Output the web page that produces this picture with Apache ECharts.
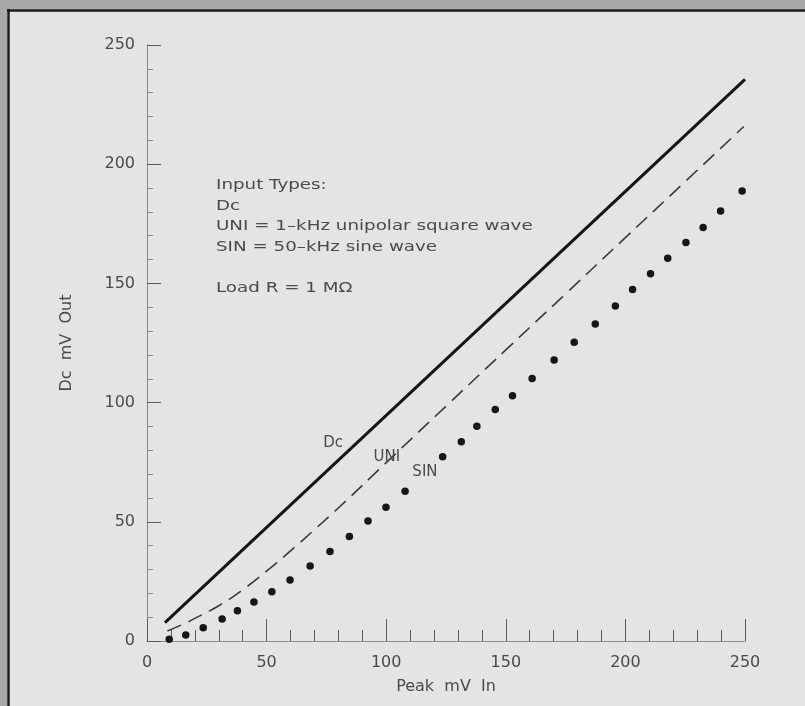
<!DOCTYPE html>
<html><head><meta charset="utf-8">
<script src="https://cdn.jsdelivr.net/npm/echarts@6/dist/echarts.min.js"></script>
<style>html,body{margin:0;padding:0;background:#e4e4e2}#c{width:805px;height:706px}</style>
</head><body><div id="c"></div><script>
// Data (mV)
const dcData = [[7.5, 7.7], [250, 235.6]];
const uniData = [[8.5, 4.2], [15, 7], [20, 9.5], [30, 14.8], [40, 21.5], [50, 29.3], [60, 37.8], [70, 46.7],
  [80, 55.8], [100, 74.8], [125, 98.5], [150, 122.1], [175, 145.6], [200, 169.2], [225, 192.7], [249.5, 215.8]];
const sinData = [[9.3, 0.7], [16.2, 2.5], [23.5, 5.6], [31.4, 9.2], [37.8, 12.7], [44.7, 16.4], [52.2, 20.7],
  [59.8, 25.6], [68.2, 31.5], [76.5, 37.5], [84.6, 43.8], [92.4, 50.3], [99.9, 56.1], [107.9, 62.8],
  [123.6, 77.3], [131.4, 83.6], [137.9, 90.1], [145.6, 97.1], [152.8, 102.9], [161.0, 110.1], [170.2, 117.9],
  [178.6, 125.3], [187.4, 133.0], [195.8, 140.5], [203.0, 147.4], [210.5, 154.0], [217.7, 160.6], [225.3, 167.2],
  [232.5, 173.4], [239.8, 180.4], [248.8, 188.8]];
const seriesLabels = [['Dc', 77.8, 83.1], ['UNI', 100.3, 77.2], ['SIN', 116.2, 70.9]];
const annotationLines = ['Input Types:', 'Dc', 'UNI = 1\u2013kHz unipolar square wave', 'SIN = 50\u2013kHz sine wave', '', 'Load R = 1 M\u03A9'];
const xTitle = 'Peak  mV  In';
const yTitle = 'Dc  mV  Out';

const FONT = 'DejaVu Sans';
const TXT = '#4a4a4a';
const chart = echarts.init(document.getElementById('c'), null, {renderer: 'canvas'});
function mk(lbl) {
  return {
    symbol: 'circle', symbolSize: 0, silent: true,
    itemStyle: {color: 'rgba(0,0,0,0)'},
    label: {show: true, position: 'inside', formatter: lbl[0], color: TXT, fontFamily: FONT, fontSize: 15},
    data: [{coord: [lbl[1], lbl[2]], value: lbl[0]}]
  };
}
chart.setOption({
  backgroundColor: '#e4e4e2',
  animation: false,
  textStyle: {fontFamily: FONT},
  grid: {left: 147, right: 60, top: 45, bottom: 65, containLabel: false},
  xAxis: {
    type: 'value', min: 0, max: 250, interval: 50,
    name: xTitle, nameLocation: 'middle', nameGap: 38,
    nameTextStyle: {color: TXT, fontSize: 16, fontFamily: FONT},
    axisLine: {show: true, lineStyle: {color: '#8a8a8a', width: 1}},
    axisTick: {show: true, inside: true, length: 22, lineStyle: {color: '#5a5a5a', width: 1}},
    minorTick: {show: true, splitNumber: 5, length: 11, lineStyle: {color: '#5a5a5a', width: 1}},
    axisLabel: {color: TXT, fontSize: 16, margin: 14, fontFamily: FONT},
    splitLine: {show: false}
  },
  yAxis: {
    type: 'value', min: 0, max: 250, interval: 50,
    name: yTitle, nameLocation: 'middle', nameGap: 72, nameRotate: 90,
    nameTextStyle: {color: TXT, fontSize: 16, fontFamily: FONT},
    axisLine: {show: true, lineStyle: {color: '#8a8a8a', width: 1}},
    axisTick: {show: true, inside: true, length: 14, lineStyle: {color: '#5a5a5a', width: 1}},
    minorTick: {show: true, splitNumber: 5, length: 6, lineStyle: {color: '#8a8a8a', width: 1}},
    axisLabel: {color: TXT, fontSize: 16, margin: 12, fontFamily: FONT},
    splitLine: {show: false}
  },
  graphic: [
    {type: 'rect', shape: {x: 0, y: 0, width: 805, height: 9}, style: {fill: '#a8a8a6'}, silent: true},
    {type: 'rect', shape: {x: 0, y: 0, width: 7, height: 706}, style: {fill: '#a8a8a6'}, silent: true},
    {type: 'line', shape: {x1: 7, y1: 10.5, x2: 805, y2: 10.5}, style: {stroke: '#1a1a1a', lineWidth: 2.5}, silent: true},
    {type: 'line', shape: {x1: 8.5, y1: 9, x2: 8.5, y2: 706}, style: {stroke: '#1a1a1a', lineWidth: 2.5}, silent: true},
    {type: 'text', x: 216, y: 175, scaleX: 1.26, scaleY: 1, silent: true,
     style: {text: annotationLines.join('\n'), fill: TXT, font: '14.5px "DejaVu Sans"', lineHeight: 20.5}}
  ],
  series: [
    {name: 'Dc', type: 'line', data: dcData, showSymbol: false, lineStyle: {color: '#151515', width: 3}, z: 3,
     markPoint: mk(seriesLabels[0])},
    {name: 'UNI', type: 'line', data: uniData, smooth: true, showSymbol: false,
     lineStyle: {color: '#3a3a3a', width: 1.6, type: [15, 8]}, z: 3,
     markPoint: mk(seriesLabels[1])},
    {name: 'SIN', type: 'scatter', data: sinData, symbol: 'circle', symbolSize: 7.5,
     itemStyle: {color: '#161616', opacity: 1}, z: 3,
     markPoint: mk(seriesLabels[2])}
  ]
});
</script></body></html>
